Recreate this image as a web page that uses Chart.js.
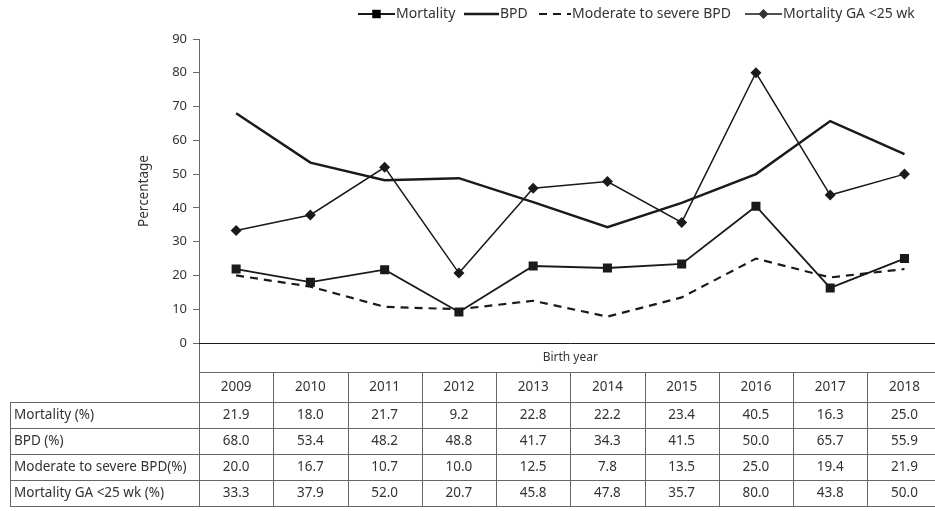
<!DOCTYPE html>
<html>
<head>
<meta charset="utf-8">
<script src="https://cdn.jsdelivr.net/npm/chart.js@4.4.1/dist/chart.umd.min.js"></script>
<style>
  html, body { margin: 0; padding: 0; background: #fff; overflow: hidden; width: 935px; height: 511px; }
  #wrap { width: 935px; height: 511px; overflow: hidden; position: relative; }
  #chart { position: absolute; left: 0; top: 0; }
</style>
</head>
<body>
<div id="wrap"><canvas id="chart" width="948" height="511"></canvas></div>
<script>
const years = ['2009', '2010', '2011', '2012', '2013', '2014', '2015', '2016', '2017', '2018'];
const mortality = [21.9, 18.0, 21.7, 9.2, 22.8, 22.2, 23.4, 40.5, 16.3, 25.0];
const bpd = [68.0, 53.4, 48.2, 48.8, 41.7, 34.3, 41.5, 50.0, 65.7, 55.9];
const modSevereBpd = [20.0, 16.7, 10.7, 10.0, 12.5, 7.8, 13.5, 25.0, 19.4, 21.9];
const mortalityGA = [33.3, 37.9, 52.0, 20.7, 45.8, 47.8, 35.7, 80.0, 43.8, 50.0];
const seriesNames = ['Mortality', 'BPD', 'Moderate to severe BPD', 'Mortality GA <25 wk'];
const rowLabels = ['Mortality (%)', 'BPD (%)', 'Moderate to severe BPD(%)', 'Mortality GA <25 wk (%)'];
const tableRows = [mortality, bpd, modSevereBpd, mortalityGA];

const FONT = '"Noto Sans", "Open Sans", sans-serif';
const INK = '#1a1a1a';

// legend drawn by hand: line with marker in the middle, like the original
const legendItems = [
    { x: 358, len: 37, style: 'rect', dash: [], width: 1.8 },
    { x: 464, len: 35, style: null, dash: [], width: 2.5 },
    { x: 539, len: 32, style: null, dash: [8, 6], width: 2.2 },
    { x: 745, len: 37, style: 'rectRot', dash: [], width: 1.5 },
];

const legendPlugin = {
    id: 'legendPlugin',
    afterDraw(chart) {
        const ctx = chart.ctx;
        const y = 14;
        ctx.save();
        legendItems.forEach((item, i) => {
            ctx.strokeStyle = INK;
            ctx.lineWidth = item.width;
            ctx.setLineDash(item.dash);
            ctx.beginPath();
            ctx.moveTo(item.x, y);
            ctx.lineTo(item.x + item.len, y);
            ctx.stroke();
            ctx.setLineDash([]);
            if (item.style) {
                Chart.helpers.drawPoint(ctx, {
                    pointStyle: item.style,
                    radius: item.style === 'rect' ? 6 : 5,
                    rotation: 0,
                    borderWidth: 0,
                }, item.x + item.len / 2, y);
            }
            ctx.fillStyle = '#333';
            ctx.font = '14px ' + FONT;
            ctx.textAlign = 'left';
            ctx.textBaseline = 'middle';
            ctx.fillText(seriesNames[i], item.x + item.len + 1, y);
        });
        ctx.restore();
    }
};

// data table under the plot, columns taken from the x scale
const tablePlugin = {
    id: 'tablePlugin',
    afterDraw(chart) {
        const ctx = chart.ctx;
        const xs = chart.scales.x;
        const left = chart.chartArea.left;
        const right = chart.chartArea.right;
        const colW = (right - left) / years.length;
        const y0 = chart.scales.y.getPixelForValue(0);
        const yearTop = y0 + 29;
        const rowTop = yearTop + 30;
        const rowH = 26;
        const tableBottom = rowTop + rowH * tableRows.length;
        const labelLeft = 10;

        ctx.save();
        ctx.lineWidth = 1;
        ctx.strokeStyle = '#666';
        ctx.beginPath();
        // axis line continues down through the table
        ctx.moveTo(left + 0.5, y0);
        ctx.lineTo(left + 0.5, tableBottom);
        ctx.moveTo(left, Math.round(yearTop) + 0.5);
        ctx.lineTo(right, Math.round(yearTop) + 0.5);
        for (let r = 0; r <= tableRows.length; r++) {
            const yy = Math.round(rowTop + r * rowH) + 0.5;
            ctx.moveTo(labelLeft, yy);
            ctx.lineTo(right, yy);
        }
        ctx.moveTo(labelLeft + 0.5, rowTop);
        ctx.lineTo(labelLeft + 0.5, tableBottom);
        for (let c = 1; c <= years.length; c++) {
            const xx = Math.round(left + c * colW) + 0.5;
            ctx.moveTo(xx, yearTop);
            ctx.lineTo(xx, tableBottom);
        }
        ctx.stroke();

        // zero line
        ctx.strokeStyle = INK;
        ctx.beginPath();
        ctx.moveTo(left, Math.round(y0) + 0.5);
        ctx.lineTo(right, Math.round(y0) + 0.5);
        ctx.stroke();

        ctx.fillStyle = '#333';
        ctx.textBaseline = 'middle';
        ctx.textAlign = 'center';
        ctx.font = '12px ' + FONT;
        ctx.fillText('Birth year', (left + right) / 2, y0 + 15);
        ctx.font = '13.5px ' + FONT;
        years.forEach((yr, i) => {
            ctx.fillText(yr, xs.getPixelForValue(i), yearTop + 15);
        });
        tableRows.forEach((row, r) => {
            const cy = rowTop + r * rowH + rowH / 2;
            ctx.textAlign = 'left';
            ctx.fillText(rowLabels[r], labelLeft + 4, cy);
            ctx.textAlign = 'center';
            row.forEach((v, i) => {
                ctx.fillText(v.toFixed(1), xs.getPixelForValue(i), cy);
            });
        });
        ctx.restore();
    }
};

new Chart(document.getElementById('chart'), {
    type: 'line',
    data: {
        labels: years,
        datasets: [
            { label: seriesNames[0], data: mortality, borderColor: INK, backgroundColor: INK, borderWidth: 1.8, pointStyle: 'rect', pointRadius: 6.4, pointBorderWidth: 0 },
            { label: seriesNames[1], data: bpd, borderColor: INK, borderWidth: 2.5, pointRadius: 0 },
            { label: seriesNames[2], data: modSevereBpd, borderColor: INK, borderWidth: 2.2, borderDash: [8, 6], pointRadius: 0 },
            { label: seriesNames[3], data: mortalityGA, borderColor: INK, backgroundColor: INK, borderWidth: 1.5, pointStyle: 'rectRot', pointRadius: 5.5, pointBorderWidth: 0 },
        ]
    },
    options: {
        responsive: false,
        animation: false,
        layout: { padding: { top: 39, bottom: 168, left: 134, right: 2 } },
        plugins: { legend: { display: false }, tooltip: { enabled: false } },
        scales: {
            x: {
                display: false,
                offset: true,
            },
            y: {
                min: 0,
                max: 90,
                ticks: { stepSize: 10, color: '#333', font: { size: 13, family: FONT }, padding: 6 },
                grid: { drawOnChartArea: false, drawTicks: true, tickLength: 6, color: '#666' },
                border: { color: '#666' },
                title: { display: true, text: 'Percentage', color: '#333', font: { size: 13.5, family: FONT }, padding: 2 },
                afterFit: s => { s.width = 65; },
            }
        }
    },
    plugins: [legendPlugin, tablePlugin]
});
</script>
</body>
</html>
